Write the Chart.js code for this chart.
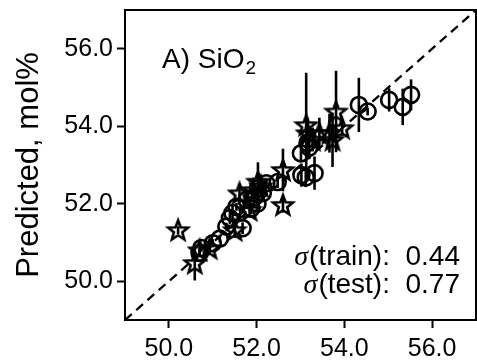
<!DOCTYPE html>
<html>
<head>
<meta charset="utf-8">
<script src="https://cdn.jsdelivr.net/npm/chart.js@4.4.1/dist/chart.umd.min.js"></script>
<style>
  html, body { margin: 0; padding: 0; background: #fff; }
  #chart { display: block; }
</style>
</head>
<body>
<canvas id="chart" width="477" height="363"></canvas>
<script>
const FONT = "'Liberation Sans', Arial, sans-serif";

const X_RANGE = [49, 57];
const Y_RANGE = [49, 57];
const X_TICKS = [50, 52, 54, 56];
const Y_TICKS = [50, 52, 54, 56];

// training set (circles)
const TRAIN_X = [55.52, 55.33, 55.02, 54.53, 54.33, 53.01, 53.16, 53.02, 53.32, 53.12, 52.48, 52.22, 52.03, 51.95, 52.02, 51.88, 51.54, 51.39, 51.68, 51.31, 51.16, 51.0, 50.74, 50.7, 51.77, 52.14, 51.45, 53.2];
const TRAIN_Y = [54.81, 54.5, 54.68, 54.38, 54.55, 53.3, 53.57, 52.74, 52.79, 52.68, 52.56, 52.53, 52.4, 52.17, 52.0, 51.88, 51.92, 51.63, 51.37, 51.41, 51.1, 50.98, 50.86, 50.73, 52.1, 52.27, 51.76, 53.45];
const TRAIN_ERR = [0.4, 0.47, 0.3, 0.1, 0.7, 0.2, 0.3, 0.3, 0.43, 0.25, 0.15, 0.1, 0.2, 0.15, 0.2, 0.15, 0.1, 0.15, 0.15, 0.1, 0.1, 0.1, 0.1, 0.1, 0.15, 0.15, 0.2, 0.3];

// test set (stars)
const TEST_X = [50.21, 50.59, 50.93, 51.5, 51.61, 51.84, 52.03, 51.92, 52.6, 52.6, 53.13, 53.81, 53.95, 53.43, 53.66, 53.73, 53.28, 50.7, 52.1, 53.16];
const TEST_Y = [51.32, 50.47, 50.85, 51.32, 52.27, 51.84, 52.57, 52.35, 52.87, 51.97, 54.03, 54.38, 53.95, 53.82, 53.82, 53.65, 53.65, 50.8, 52.45, 53.82];
const TEST_ERR = [0.1, 0.45, 0.15, 0.2, 0.25, 0.2, 0.5, 0.2, 0.55, 0.2, 1.35, 1.05, 0.2, 0.4, 0.5, 0.7, 0.3, 0.15, 0.25, 0.4];

const SIGMA_LABELS = ['train', 'test'];
const SIGMA_VALUES = ['0.44', '0.77'];

function toPoints(xs, ys) {
  return xs.map((x, i) => ({ x, y: ys[i] }));
}

function makeStar(outer) {
  const size = Math.ceil(outer * 2 + 5);
  const c = document.createElement('canvas');
  c.width = size;
  c.height = size;
  const ctx = c.getContext('2d');
  ctx.translate(size / 2, size / 2 + 0.8);
  ctx.beginPath();
  for (let i = 0; i < 10; i++) {
    const r = i % 2 === 0 ? outer : outer * 0.42;
    const a = -Math.PI / 2 + (i * Math.PI) / 5;
    const px = r * Math.cos(a);
    const py = r * Math.sin(a);
    if (i === 0) ctx.moveTo(px, py); else ctx.lineTo(px, py);
  }
  ctx.closePath();
  ctx.lineWidth = 2.6;
  ctx.lineJoin = 'miter';
  ctx.strokeStyle = '#000';
  ctx.stroke();
  return c;
}

const errorBars = {
  id: 'errorBars',
  beforeDatasetsDraw(chart) {
    const { ctx, scales } = chart;
    const sets = [[TRAIN_X, TRAIN_Y, TRAIN_ERR], [TEST_X, TEST_Y, TEST_ERR]];
    ctx.save();
    ctx.strokeStyle = '#000';
    ctx.lineWidth = 2.6;
    sets.forEach(([xs, ys, es]) => {
      xs.forEach((x, i) => {
        const px = scales.x.getPixelForValue(x);
        ctx.beginPath();
        ctx.moveTo(px, scales.y.getPixelForValue(ys[i] - es[i]));
        ctx.lineTo(px, scales.y.getPixelForValue(ys[i] + es[i]));
        ctx.stroke();
      });
    });
    ctx.restore();
  },
};

const frameAndText = {
  id: 'frameAndText',
  afterDraw(chart) {
    const { ctx, chartArea: a } = chart;
    ctx.save();
    ctx.strokeStyle = '#000';
    ctx.lineWidth = 2;
    ctx.strokeRect(a.left, a.top, a.right - a.left, a.bottom - a.top);

    ctx.fillStyle = '#000';
    ctx.textBaseline = 'alphabetic';
    ctx.textAlign = 'left';
    ctx.font = `28px ${FONT}`;
    const label = 'A) SiO';
    ctx.fillText(label, 162, 68);
    const w = ctx.measureText(label).width;
    ctx.font = `19px ${FONT}`;
    ctx.fillText('2', 162 + w + 1, 74);

    const right = 460;
    const baselines = [265, 293];
    SIGMA_LABELS.forEach((name, i) => {
      ctx.font = `28px ${FONT}`;
      const rest = `(${name}):  ${SIGMA_VALUES[i]}`;
      const rw = ctx.measureText(rest).width;
      ctx.textAlign = 'left';
      ctx.fillText(rest, right - rw, baselines[i]);
      ctx.font = `italic 28px 'Liberation Serif', serif`;
      const sw = ctx.measureText('σ').width;
      ctx.fillText('σ', right - rw - sw - 1, baselines[i]);
    });
    ctx.restore();
  },
};

const axisCommon = {
  type: 'linear',
  grid: { drawOnChartArea: false, drawTicks: true, tickLength: 8, tickWidth: 2, tickColor: '#000' },
  border: { display: true, color: '#000', width: 2 },
  ticks: {
    color: '#000',
    font: { family: FONT, size: 25 },
    padding: 4,
    callback: (v) => Number(v).toFixed(1),
  },
};

new Chart(document.getElementById('chart'), {
  type: 'scatter',
  data: {
    datasets: [
      {
        label: 'train',
        data: toPoints(TRAIN_X, TRAIN_Y),
        pointStyle: 'circle',
        pointRadius: 8,
        pointBorderWidth: 2.6,
        pointBorderColor: '#000',
        pointBackgroundColor: 'rgba(0,0,0,0)',
      },
      {
        label: 'test',
        data: toPoints(TEST_X, TEST_Y),
        pointStyle: makeStar(10.5),
        pointRadius: 10,
      },
      {
        type: 'line',
        label: 'ideal',
        data: toPoints(X_RANGE, Y_RANGE),
        borderColor: '#000',
        borderWidth: 2.3,
        borderDash: [9, 6],
        pointRadius: 0,
        fill: false,
      },
    ],
  },
  options: {
    responsive: false,
    animation: false,
    devicePixelRatio: 1,
    layout: { autoPadding: false, padding: { top: 10, right: 1, left: 0, bottom: 0 } },
    plugins: { legend: { display: false }, tooltip: { enabled: false } },
    scales: {
      x: {
        ...axisCommon,
        min: X_RANGE[0],
        max: X_RANGE[1],
        ticks: { ...axisCommon.ticks, padding: 6 },
        afterBuildTicks: (s) => { s.ticks = X_TICKS.map((value) => ({ value })); },
        afterFit: (s) => { s.height = 43; s.paddingLeft = 0; s.paddingRight = 0; },
      },
      y: {
        ...axisCommon,
        min: Y_RANGE[0],
        max: Y_RANGE[1],
        afterBuildTicks: (s) => { s.ticks = Y_TICKS.map((value) => ({ value })); },
        afterFit: (s) => { s.width = 125; s.paddingTop = 0; s.paddingBottom = 0; },
        title: {
          display: true,
          text: 'Predicted, mol%',
          color: '#000',
          font: { family: FONT, size: 31 },
          padding: { top: 11, bottom: 0 },
        },
      },
    },
  },
  plugins: [errorBars, frameAndText],
});
</script>
</body>
</html>
